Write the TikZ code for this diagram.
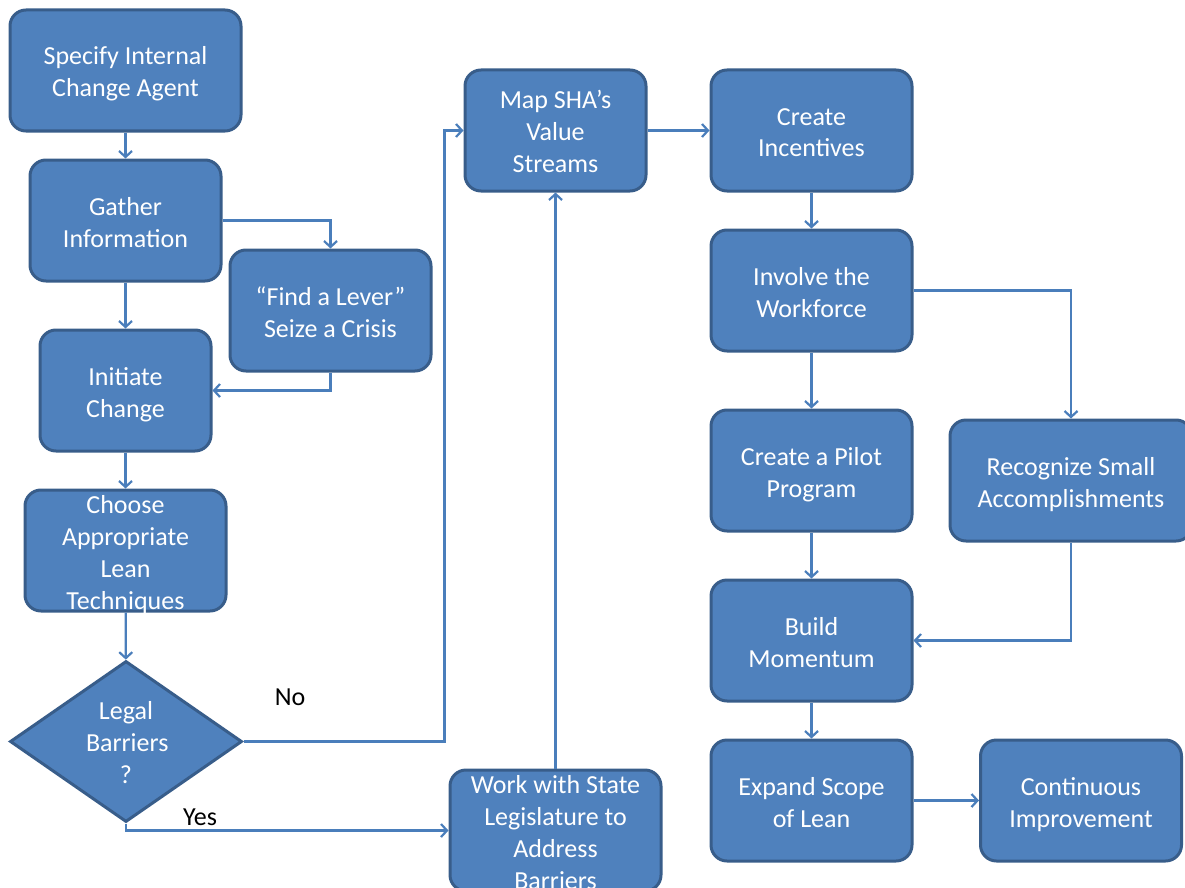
\documentclass[tikz,border=0pt]{standalone}
\usepackage{fontspec}
\setmainfont{Carlito}
\usetikzlibrary{shapes.geometric,arrows.meta}

\definecolor{boxfill}{HTML}{4F81BD}
\definecolor{boxline}{HTML}{385D8A}
\definecolor{linkline}{HTML}{4A7EBB}

\begin{document}
\begin{tikzpicture}[x=1pt,y=-1pt,
        box/.style = {
            draw=boxline,
            fill=boxfill,
            line width=3pt,
            rounded corners=16pt,
            text=white,
            align=center,
            inner sep=0pt,
            minimum height=121pt,
            text height=60pt, text depth=7pt,
            font=\fontsize{26}{32}\selectfont
        },
        threebox/.style = {box, text height=90pt, text depth=7pt},
        tallbox/.style = {box, text height=117pt, text depth=0pt},
        decision/.style = {
            diamond, aspect=1.44,
            draw=boxline, fill=boxfill, line width=3pt,
            text=white, align=center, text width=80pt,
            text height=10pt, text depth=54pt, inner sep=0pt,
            minimum width=232pt, minimum height=161pt,
            font=\fontsize{26}{32}\selectfont
        },
        link/.style = {draw=linkline, line width=2.2pt},
        >={Straight Barb[length=6pt,width=13pt]}]

        \useasboundingbox (0,0) rectangle (1185,888);

        % left column
        \node[box, minimum width=231pt] (specify) at (125.5,70.5) {Specify Internal\\Change Agent};
        \node[box, minimum width=191pt] (gather) at (125.5,220.5) {Gather\\Information};
        \node[box, minimum width=201pt] (lever) at (330.5,310.5) {“Find a Lever”\\Seize a Crisis};
        \node[box, minimum width=171pt] (initiate) at (125.5,390.5) {Initiate\\Change};
        \node[tallbox, minimum width=201pt] (choose) at (125.5,550.5) {Choose\\Appropriate\\Lean\\Techniques};
        \node[decision] (barriers) at (126,741.5) {Legal\\Barriers\\?};

        % middle column
        \node[threebox, minimum width=181pt] (map) at (555.5,130.5) {Map SHA’s\\Value\\Streams};
        \node[tallbox, minimum width=211pt] (work) at (555.5,830.5) {Work with State\\Legislature to\\Address\\Barriers};

        % right columns
        \node[box, minimum width=201pt] (incentives) at (811.5,130.5) {Create\\Incentives};
        \node[box, minimum width=201pt] (involve) at (811.5,290.5) {Involve the\\Workforce};
        \node[box, minimum width=201pt] (pilot) at (811.5,470.5) {Create a Pilot\\Program};
        \node[box, minimum width=242pt] (recognize) at (1071,480.5) {Recognize Small\\Accomplishments};
        \node[box, minimum width=201pt] (build) at (811.5,640.5) {Build\\Momentum};
        \node[box, minimum width=201pt] (expand) at (811.5,800.5) {Expand Scope\\of Lean};
        \node[box, minimum width=201pt] (continuous) at (1081,800.5) {Continuous\\Improvement};

        \node[font=\fontsize{26}{32}\selectfont] (no) at (290,697) {No};
        \node[font=\fontsize{26}{32}\selectfont] (yes) at (200,817) {Yes};

        \draw[link, ->] (specify) -- (gather);
        \draw[link, ->] (gather.east) -| (lever.north);
        \draw[link, ->] (gather) -- (initiate);
        \draw[link, ->] (lever.south) |- (initiate.east);
        \draw[link, ->] (initiate) -- (choose);
        \draw[link, ->] (choose) -- (barriers);
        \draw[link, ->] (barriers.east) -- ++(201,0) |- (map.west);
        \draw[link, ->] (barriers.south) |- (work.west);
        \draw[link, ->] (work) -- (map);
        \draw[link, ->] (map) -- (incentives);
        \draw[link, ->] (incentives) -- (involve);
        \draw[link, ->] (involve) -- (pilot);
        \draw[link, ->] (involve.east) -| (recognize.north);
        \draw[link, ->] (pilot) -- (build);
        \draw[link, ->] (recognize.south) |- (build.east);
        \draw[link, ->] (build) -- (expand);
        \draw[link, ->] (expand) -- (continuous);
    \end{tikzpicture}
\end{document}
